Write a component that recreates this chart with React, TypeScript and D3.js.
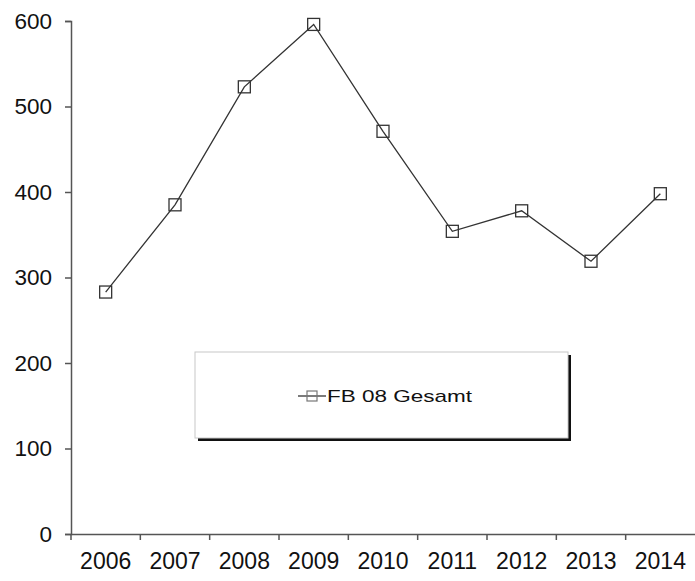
import { useEffect, useRef } from 'react';
import * as d3 from 'd3';

const years = ['2006', '2007', '2008', '2009', '2010', '2011', '2012', '2013', '2014'];
const gesamt = [283, 385, 523, 596, 471, 354, 378, 319, 398];
const yTicks = [0, 100, 200, 300, 400, 500, 600];
const seriesName = 'FB 08 Gesamt';

export default function App() {
  const svgRef = useRef<SVGSVGElement>(null);

  useEffect(() => {
    if (!svgRef.current) return;
    const svg = d3.select(svgRef.current);
    svg.selectAll('*').remove();

    const left = 71;
    const right = 695;
    const top = 21;
    const bottom = 534;
    const font = 'Liberation Sans, Arial, sans-serif';
    const ink = '#333';

    const x = d3.scaleBand<string>().domain(years).range([left, right]);
    const y = d3.scaleLinear().domain([0, 600]).range([bottom, top]);

    // y axis
    const yAxis = svg.append('g')
      .attr('transform', `translate(${left},0)`)
      .call(d3.axisLeft(y).tickValues(yTicks).tickSize(6).tickPadding(13));
    yAxis.select('.domain').attr('stroke', '#555').attr('stroke-width', 1.5);
    yAxis.selectAll('.tick line').attr('stroke', '#555').attr('stroke-width', 1.5);
    yAxis.selectAll('.tick text')
      .attr('font-family', font).attr('font-size', 22.5).attr('fill', '#111');

    // x axis: ticks between categories
    const xAxis = svg.append('g')
      .attr('transform', `translate(0,${bottom})`)
      .call(d3.axisBottom(x).tickSize(0).tickPadding(19));
    xAxis.select('.domain').attr('stroke', '#555').attr('stroke-width', 1.5);
    xAxis.selectAll('.tick text')
      .attr('font-family', font).attr('font-size', 23).attr('fill', '#111');
    svg.append('g')
      .selectAll('line')
      .data(years)
      .join('line')
      .attr('x1', d => x(d)!)
      .attr('x2', d => x(d)!)
      .attr('y1', bottom)
      .attr('y2', bottom + 6)
      .attr('stroke', '#555')
      .attr('stroke-width', 1.5);

    // series line
    const cx = (d: string) => x(d)! + x.bandwidth() / 2;
    const line = d3.line<number>()
      .x((_, i) => cx(years[i]))
      .y(d => y(d));
    svg.append('path')
      .datum(gesamt)
      .attr('fill', 'none')
      .attr('stroke', ink)
      .attr('stroke-width', 1.3)
      .attr('d', line);

    const m = 12;
    svg.append('g')
      .selectAll('rect')
      .data(gesamt)
      .join('rect')
      .attr('x', (_, i) => cx(years[i]) - m / 2)
      .attr('y', d => y(d) - m / 2)
      .attr('width', m)
      .attr('height', m)
      .attr('fill', 'none')
      .attr('stroke', ink)
      .attr('stroke-width', 1.3);

    // legend
    const lg = svg.append('g');
    lg.append('rect')
      .attr('x', 198).attr('y', 355).attr('width', 373).attr('height', 86)
      .attr('fill', '#111');
    lg.append('rect')
      .attr('x', 195).attr('y', 352).attr('width', 373).attr('height', 86)
      .attr('fill', '#fff').attr('stroke', '#c8c8c8').attr('stroke-width', 1);
    lg.append('line')
      .attr('x1', 298).attr('x2', 326).attr('y1', 396).attr('y2', 396)
      .attr('stroke', ink).attr('stroke-width', 1.3);
    lg.append('rect')
      .attr('x', 307).attr('y', 391).attr('width', 10).attr('height', 10)
      .attr('fill', 'none').attr('stroke', '#777').attr('stroke-width', 1.2);
    lg.append('text')
      .attr('x', 327).attr('y', 402)
      .attr('font-family', font).attr('font-size', 17).attr('fill', '#111')
      .attr('textLength', 145).attr('lengthAdjust', 'spacingAndGlyphs')
      .text(seriesName);
  }, []);

  return (
    <svg
      ref={svgRef}
      width={695}
      height={581}
      style={{ display: 'block', position: 'absolute', left: 0, top: 0, background: '#fff' }}
    />
  );
}
